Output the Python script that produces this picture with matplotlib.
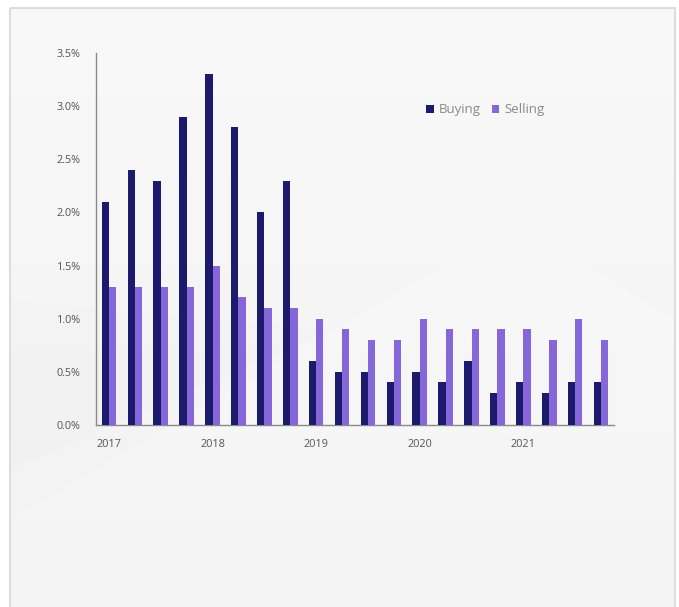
import numpy as np
import matplotlib.pyplot as plt
from matplotlib.patches import Polygon, Rectangle

plt.rcParams['font.family'] = ['Open Sans', 'DejaVu Sans']

quarters = list(range(20))
year_labels = ["2017", "2018", "2019", "2020", "2021"]
buying = [2.1, 2.4, 2.3, 2.9, 3.3, 2.8, 2.0, 2.3,
          0.6, 0.5, 0.5, 0.4, 0.5, 0.4, 0.6, 0.3,
          0.4, 0.3, 0.4, 0.4]
selling = [1.3, 1.3, 1.3, 1.3, 1.5, 1.2, 1.1, 1.1,
           1.0, 0.9, 0.8, 0.8, 1.0, 0.9, 0.9, 0.9,
           0.9, 0.8, 1.0, 0.8]

buy_color = "#1c1a6c"
sell_color = "#8567d9"

fig = plt.figure(figsize=(6.79, 6.07), dpi=100)
fig.patch.set_facecolor("white")

# card background with soft gradient and faint shapes
bg = fig.add_axes([0, 0, 1, 1], zorder=-10)
bg.set_xlim(0, 679)
bg.set_ylim(607, 0)
bg.axis("off")
grad = np.linspace(0, 1, 200).reshape(-1, 1)
bg.imshow(grad, cmap=plt.matplotlib.colors.LinearSegmentedColormap.from_list(
    "card", ["#f9f9f9", "#f2f2f2"]), extent=[10, 675, 607, 8], aspect="auto", zorder=0)
bg.add_patch(Polygon([[10, 520], [517, 222], [675, 320], [675, 607], [10, 607]],
                     closed=True, facecolor="white", alpha=0.22, edgecolor="none", zorder=1))
bg.add_patch(Polygon([[10, 470], [330, 330], [10, 300]],
                     closed=True, facecolor="#ececec", alpha=0.15, edgecolor="none", zorder=1))
bg.add_patch(Rectangle((10, 8), 665, 620, facecolor="none", edgecolor="#dcdce2",
                       linewidth=1.5, zorder=2))

ax = fig.add_axes([96 / 679, 1 - 425 / 607, (614 - 96) / 679, (425 - 53) / 607])
ax.patch.set_alpha(0)

x = np.array(quarters)
w = 0.28
ax.bar(x - w / 2, buying, w, color=buy_color, label="Buying", zorder=3)
ax.bar(x + w / 2, selling, w, color=sell_color, label="Selling", zorder=3)

ax.set_xlim(-0.5, 19.5)
ax.set_ylim(0, 3.5)
ax.set_yticks(np.arange(0, 3.51, 0.5))
ax.set_yticklabels([f"{v:.1f}%" for v in np.arange(0, 3.51, 0.5)])
ax.set_xticks(x[::4])
ax.set_xticklabels(year_labels)
ax.tick_params(axis="both", length=0, labelsize=7.8, labelcolor="#555555")
ax.tick_params(axis="y", pad=11)
ax.tick_params(axis="x", pad=10)

for side in ["top", "right"]:
    ax.spines[side].set_visible(False)
for side in ["left", "bottom"]:
    ax.spines[side].set_color("#8a8a8a")
    ax.spines[side].set_linewidth(1)

leg = ax.legend(loc="center left", bbox_to_anchor=(0.615, 0.847), ncol=2, frameon=False,
                fontsize=9.5, handlelength=0.6, handleheight=0.6, handletextpad=0.35,
                columnspacing=0.8)
for t in leg.get_texts():
    t.set_color("#8a8a8a")

fig.savefig("out.png", dpi=100)
